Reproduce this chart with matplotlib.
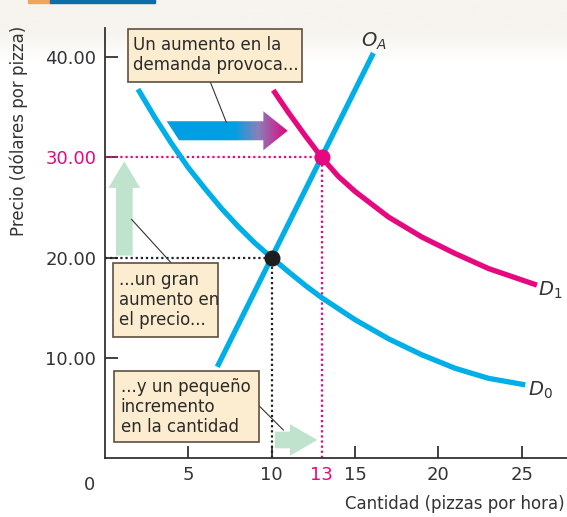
import numpy as np
import matplotlib
matplotlib.use("Agg")
import matplotlib.pyplot as plt
from matplotlib.patches import Rectangle, Polygon, FancyArrow
from matplotlib.colors import LinearSegmentedColormap

# curves (cantidad, precio)
d0_q = [2.0, 3.0, 4.0, 5.0, 6.0, 7.0, 8.0, 9.0, 10.0, 11.0, 12.0, 13.0,
        15.0, 17.0, 19.0, 21.0, 23.0, 25.2]
d0_p = [36.8, 34.0, 31.4, 29.0, 26.9, 24.9, 23.1, 21.45, 20.0, 18.6, 17.25, 16.0,
        13.8, 11.9, 10.3, 8.95, 7.95, 7.3]
d1_q = [10.1, 11.0, 12.0, 13.0, 14.0, 15.0, 17.0, 19.0, 21.0, 23.0, 25.9]
d1_p = [36.7, 34.5, 32.2, 30.0, 28.1, 26.6, 24.05, 22.05, 20.4, 18.9, 17.25]
oa_q = [6.75, 16.1]
oa_p = [9.1, 40.4]

eq0 = (10, 20)
eq1 = (13, 30)

xticks = [5, 10, 13, 15, 20, 25]
yticks = [10, 20, 30, 40]

BLUE = "#00aee8"
MAGENTA = "#e5087f"
GREEN = "#bfe3cc"
BOXFACE = "#fdedd0"
BOXEDGE = "#5e5040"
TXT = "#333333"

plt.rcParams["font.family"] = ["DejaVu Sans"]

fig = plt.figure(figsize=(5.67, 5.17), dpi=100)

# light header band at the top
bg = fig.add_axes([0, 0, 1, 1], zorder=-10)
grad = np.linspace(0, 1, 200).reshape(-1, 1)
bg.imshow(grad, extent=[0, 1, 0.88, 1.0], aspect="auto",
          cmap=LinearSegmentedColormap.from_list("bg", ["#ffffff", "#f6f4ee", "#f6f4ee"]),
          origin="lower")
bg.set_xlim(0, 1)
bg.set_ylim(0, 1)
bg.axis("off")
fig.patches.append(Rectangle((0.05, 0.994), 0.04, 0.01, transform=fig.transFigure,
                             color="#f2a55a", zorder=5))
fig.patches.append(Rectangle((0.088, 0.994), 0.185, 0.01, transform=fig.transFigure,
                             color="#0a6fa8", zorder=5))

ax = fig.add_axes([0.1845, 0.1141, 0.8155, 0.8317])
ax.set_facecolor("none")
ax.set_xlim(0, 27.7)
ax.set_ylim(0, 42.9)

for s in ["top", "right"]:
    ax.spines[s].set_visible(False)
for s in ["left", "bottom"]:
    ax.spines[s].set_color(TXT)
    ax.spines[s].set_linewidth(1.3)

ax.set_xticks(xticks)
ax.set_xticklabels([str(t) for t in xticks])
ax.set_yticks(yticks)
ax.set_yticklabels(["%.2f" % t for t in yticks])
ax.tick_params(direction="in", length=9, width=1.3, color=TXT, labelcolor=TXT,
               labelsize=13)
ax.tick_params(axis="x", pad=6)
ax.tick_params(axis="y", pad=6)
for t, lab in zip(ax.xaxis.get_major_ticks(), ax.get_xticklabels()):
    if lab.get_text() == "13":
        t.tick1line.set_visible(False)
        lab.set_color(MAGENTA)
for lab in ax.get_yticklabels():
    if lab.get_text() == "30.00":
        lab.set_color(MAGENTA)
ax.text(-0.9, -1.8, "0", fontsize=13, color=TXT, ha="center", va="top")

ax.set_ylabel("Precio (dólares por pizza)", fontsize=12, color=TXT)
ax.yaxis.set_label_coords(-0.165, 0.76)
ax.set_xlabel("Cantidad (pizzas por hora)", fontsize=12, color=TXT)
ax.xaxis.set_label_coords(0.995, -0.085)
ax.xaxis.label.set_ha("right")

# guide lines
dot = (0, (1, 1.3))
ax.plot([0, eq0[0]], [eq0[1], eq0[1]], color="#222222", lw=1.6, ls=dot, zorder=2)
ax.plot([eq0[0], eq0[0]], [0, eq0[1]], color="#222222", lw=1.6, ls=dot, zorder=2)
ax.plot([0, eq1[0]], [eq1[1], eq1[1]], color=MAGENTA, lw=1.6, ls=dot, zorder=2)
ax.plot([eq1[0], eq1[0]], [0, eq1[1]], color=MAGENTA, lw=1.6, ls=dot, zorder=2)

# curves
ax.plot(d0_q, d0_p, color=BLUE, lw=3.8, solid_capstyle="butt",
        solid_joinstyle="round", zorder=4)
ax.plot(d1_q, d1_p, color=MAGENTA, lw=3.8, solid_capstyle="butt",
        solid_joinstyle="round", zorder=4)
ax.plot(oa_q, oa_p, color=BLUE, lw=3.8, solid_capstyle="butt", zorder=4)
ax.plot(*eq0, "o", color="#1e1e1e", ms=10.5, zorder=6)
ax.plot(*eq1, "o", color=MAGENTA, ms=10.5, zorder=6)

ax.text(15.35, 41.6, "$O_A$", fontsize=14, color=TXT, va="center", ha="left")
ax.text(25.95, 16.7, "$D_1$", fontsize=14, color=TXT, va="center", ha="left")
ax.text(25.35, 6.8, "$D_0$", fontsize=14, color=TXT, va="center", ha="left")

# green arrows
ax.add_patch(FancyArrow(1.18, 20.2, 0, 9.4, width=1.0, head_width=1.9, head_length=2.65,
                        length_includes_head=True, color=GREEN, lw=0, zorder=3))
ax.add_patch(FancyArrow(10.2, 1.8, 2.54, 0, width=1.66, head_width=3.16, head_length=1.64,
                        length_includes_head=True, color=GREEN, lw=0, zorder=3))

# shift arrow with blue -> magenta gradient
shape = Polygon([(3.72, 33.6), (9.51, 33.6), (9.51, 34.6), (10.97, 32.65),
                 (9.51, 30.7), (9.51, 31.7), (4.46, 31.7)],
                closed=True, facecolor="none", edgecolor="none", zorder=3)
ax.add_patch(shape)
cm = LinearSegmentedColormap.from_list(
    "shift", [(0, "#009fe3"), (0.55, "#009fe3"), (0.75, "#8a80ba"), (1.0, "#e6007e")])
im = ax.imshow(np.linspace(0, 1, 256).reshape(1, -1), extent=[3.72, 10.97, 30.7, 34.6],
               cmap=cm, aspect="auto", zorder=3, interpolation="bilinear")
im.set_clip_path(shape)
ax.set_xlim(0, 27.7)
ax.set_ylim(0, 42.9)

# annotation boxes
boxes = [
    ((1.38, 37.52), 10.47, 5.32, (1.70, 40.18), "Un aumento en la\ndemanda provoca..."),
    ((0.49, 12.09), 6.32, 7.32, (0.86, 15.75), "...un gran\naumento en\nel precio..."),
    ((0.56, 1.57), 8.67, 7.10, (0.96, 5.12), "...y un pequeño\nincremento\nen la cantidad"),
]
for (x0, y0), w, h, (tx, ty), txt in boxes:
    ax.add_patch(Rectangle((x0, y0), w, h, facecolor=BOXFACE, edgecolor=BOXEDGE,
                           lw=1.2, zorder=7, clip_on=False))
    ax.text(tx, ty, txt, fontsize=12, color="#2a2a2a", ha="left", va="center",
            linespacing=1.15, zorder=8)

leaders = [((6.33, 37.52), (7.29, 33.5)),
           ((1.62, 23.8), (4.02, 19.41)),
           ((9.27, 5.18), (10.71, 2.79))]
for (xa, ya), (xb, yb) in leaders:
    ax.plot([xa, xb], [ya, yb], color="#333333", lw=0.8, zorder=5)

fig.savefig("out.png", dpi=100)
